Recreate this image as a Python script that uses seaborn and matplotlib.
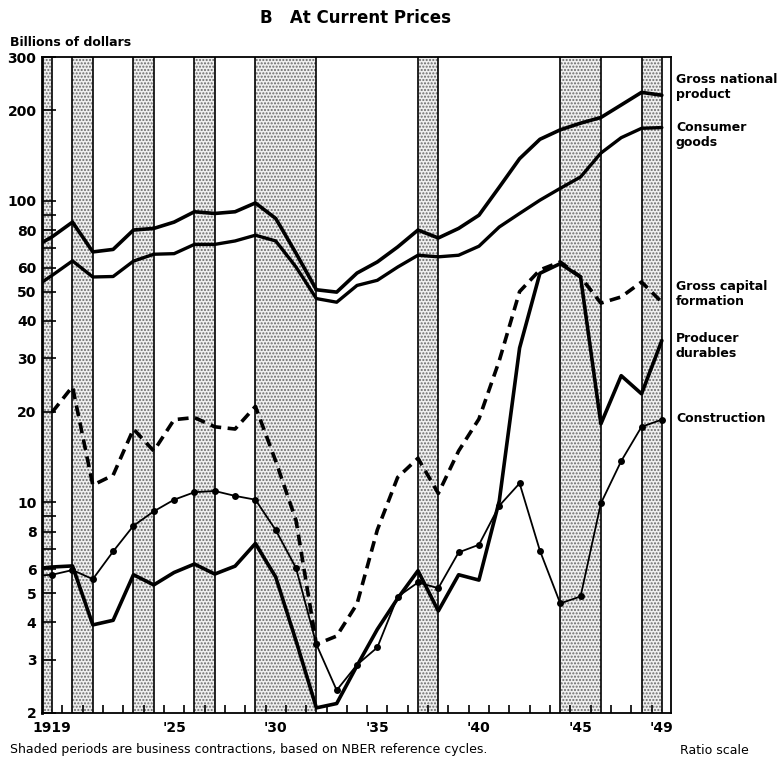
import matplotlib
matplotlib.use("Agg")
import matplotlib.pyplot as plt
import matplotlib.ticker as mticker
import seaborn as sns
import numpy as np

# annual values, billions of dollars (1918 point only feeds the clipped left stub)
years = list(range(1918, 1950))
gnp = [69.5, 76, 85, 67.7, 69, 80, 81, 85, 92, 90.8, 92, 98.4, 87.4, 67, 50.7, 49.8,
       57.6, 62.7, 70.3, 80, 75.3, 81, 89.6, 111, 138, 160, 172, 181, 189, 208, 229, 224]
consumer = [51, 56.6, 63.2, 55.9, 56.1, 63.1, 66.5, 66.8, 71.7, 71.7, 73.6, 76.9, 73.6, 60.3,
            47.4, 46.1, 52.4, 54.5, 60.3, 66, 65.2, 66, 70.7, 81.9, 90.8, 100.5, 110, 120,
            144, 162, 174, 175]
capital = [np.nan, 19.9, 24.2, 11.4, 12.3, 17.5, 14.8, 18.8, 19.1, 17.8, 17.5, 20.8, 13.7, 8.7,
           3.38, 3.6, 4.6, 8.1, 12.1, 14.0, 10.7, 14.8, 18.9, 29.5, 50, 59, 62.7, 55.9,
           45.8, 48, 53.8, 46.1]
producer = [6.0, 6.1, 6.15, 3.92, 4.06, 5.75, 5.32, 5.85, 6.24, 5.78, 6.14, 7.3, 5.65, 3.47,
            2.08, 2.15, 2.87, 3.79, 4.8, 5.93, 4.36, 5.75, 5.52, 10.1, 32.5, 57.5, 61.9,
            55.9, 18.2, 26.3, 22.9, 34.4]
construction = [5.7, 5.75, 5.96, 5.56, 6.87, 8.36, 9.33, 10.2, 10.8, 10.9, 10.5, 10.2, 8.09,
                6.05, 3.38, 2.38, 2.89, 3.3, 4.86, 5.42, 5.19, 6.82, 7.23, 9.74, 11.56, 6.91,
                4.62, 4.87, 9.92, 13.7, 17.8, 18.8]

# NBER contractions (annual approximation)
contraction_start = [1918, 1920, 1923, 1926, 1929, 1937, 1944, 1948]
contraction_end = [1919, 1921, 1924, 1927, 1932, 1938, 1946, 1949]

x_ticks = [1919, 1925, 1930, 1935, 1940, 1945, 1949]
x_labels = ["1919", "'25", "'30", "'35", "'40", "'45", "'49"]
y_ticks = [2, 3, 4, 5, 6, 8, 10, 20, 30, 40, 50, 60, 80, 100, 200, 300]
y_minor = [7, 9, 70, 90]

sns.set_theme(style="white")
plt.rcParams["font.family"] = ["DejaVu Sans"]
plt.rcParams["text.color"] = "black"
plt.rcParams["xtick.color"] = "black"
plt.rcParams["ytick.color"] = "black"
plt.rcParams["hatch.linewidth"] = 1.0

W, H = 779, 759
fig = plt.figure(figsize=(W / 100, H / 100), dpi=100)
ax = fig.add_axes([42 / W, 1 - 713 / H, (671 - 42) / W, (713 - 57) / H])

for s, e in zip(contraction_start, contraction_end):
    ax.axvspan(s, e, facecolor="#f0f0f0", edgecolor="#6a6a6a", hatch=".....", lw=0, zorder=0)
    ax.axvline(s, color="black", lw=1.2, zorder=1)
    ax.axvline(e, color="black", lw=1.2, zorder=1)

sns.lineplot(x=years, y=gnp, ax=ax, color="black", lw=2.6, zorder=3)
sns.lineplot(x=years, y=consumer, ax=ax, color="black", lw=2.4, zorder=3)
l_cap = sns.lineplot(x=years, y=capital, ax=ax, color="black", lw=2.6, zorder=3).lines[-1]
l_cap.set_dashes((3, 1.8))
sns.lineplot(x=years, y=producer, ax=ax, color="black", lw=2.6, zorder=3)
sns.lineplot(x=years, y=construction, ax=ax, color="black", lw=1.3, marker="o",
             markersize=5, markeredgewidth=0, zorder=4)

ax.set_yscale("log")
ax.set_ylim(2, 300)
ax.set_xlim(1918.5, 1949.45)
ax.set_xlabel("")
ax.set_ylabel("")

ax.yaxis.set_major_locator(mticker.FixedLocator(y_ticks))
ax.yaxis.set_major_formatter(mticker.FixedFormatter([str(v) for v in y_ticks]))
ax.yaxis.set_minor_locator(mticker.FixedLocator(y_minor))
ax.yaxis.set_minor_formatter(mticker.NullFormatter())
ax.tick_params(axis="y", which="both", direction="in", length=10, width=1.2, color="black",
               left=True, labelsize=10, pad=4, labelcolor="black")
for t in ax.get_yticklabels():
    t.set_fontweight("bold")

ax.xaxis.set_major_locator(mticker.FixedLocator(x_ticks))
ax.xaxis.set_major_formatter(mticker.FixedFormatter(x_labels))
ax.xaxis.set_minor_locator(mticker.FixedLocator(np.arange(1919.5, 1949, 1.0)))
ax.tick_params(axis="x", which="major", length=0, labelsize=10, pad=6, labelcolor="black")
ax.tick_params(axis="x", which="minor", direction="in", length=6, width=1.2, color="black",
               bottom=True)
for t in ax.get_xticklabels():
    t.set_fontweight("bold")

for sp in ax.spines.values():
    sp.set_color("black")
    sp.set_linewidth(1.3)
ax.spines["left"].set_linewidth(2)

fig.text(356 / W, 1 - 18 / H, "B   At Current Prices", ha="center", va="center",
         fontsize=12, fontweight="bold")
fig.text(10 / W, 1 - 42 / H, "Billions of dollars", ha="left", va="center",
         fontsize=9, fontweight="bold")
fig.text(10 / W, 1 - 750 / H,
         "Shaded periods are business contractions, based on NBER reference cycles.",
         ha="left", va="center", fontsize=9)
fig.text(680 / W, 1 - 750 / H, "Ratio scale", ha="left", va="center", fontsize=9)

labels = [("Gross national\nproduct", 87), ("Consumer\ngoods", 135),
          ("Gross capital\nformation", 294), ("Producer\ndurables", 346),
          ("Construction", 419)]
for txt, yp in labels:
    fig.text(676 / W, 1 - yp / H, txt, ha="left", va="center", fontsize=9,
             fontweight="bold", linespacing=1.25)

fig.savefig("out.png", dpi=100)
plt.close(fig)
